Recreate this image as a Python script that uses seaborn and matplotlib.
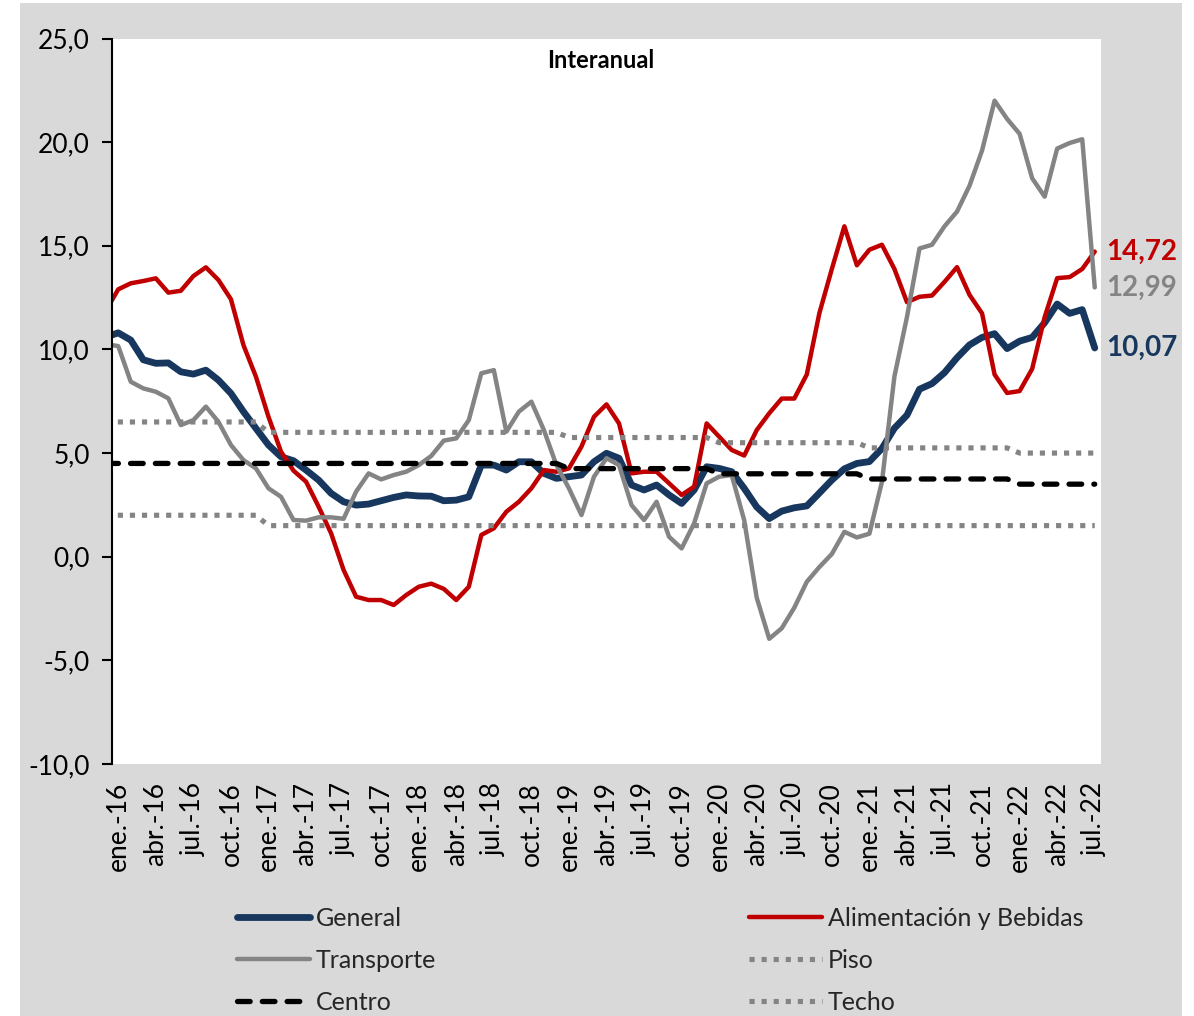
import numpy as np
import pandas as pd
import matplotlib
matplotlib.use("Agg")
import matplotlib.pyplot as plt
from matplotlib.patches import Rectangle
import seaborn as sns

# meses: dic.-15 .. jul.-22 (dic.-15 queda fuera del eje, solo da la pendiente inicial)
abrev = ["ene.", "feb.", "mar.", "abr.", "may.", "jun.", "jul.", "ago.", "sep.", "oct.", "nov.", "dic."]
meses = ["dic.-15"] + [f"{m}-{a}" for a in range(16, 23) for m in abrev]
meses = meses[:meses.index("jul.-22") + 1]

tick_labels = ["ene.-16", "abr.-16", "jul.-16", "oct.-16", "ene.-17", "abr.-17", "jul.-17", "oct.-17",
               "ene.-18", "abr.-18", "jul.-18", "oct.-18", "ene.-19", "abr.-19", "jul.-19", "oct.-19",
               "ene.-20", "abr.-20", "jul.-20", "oct.-20", "ene.-21", "abr.-21", "jul.-21", "oct.-21",
               "ene.-22", "abr.-22", "jul.-22"]

general = [10.6, 10.8, 10.45, 9.5, 9.33, 9.35, 8.92, 8.81, 9.0, 8.52, 7.88, 7.0, 6.19,
           5.39, 4.82, 4.63, 4.18, 3.7, 3.06, 2.65, 2.49, 2.54, 2.7, 2.86, 2.98,
           2.93, 2.92, 2.7, 2.73, 2.89, 4.42, 4.42, 4.18, 4.58, 4.58, 4.02, 3.78,
           3.86, 3.94, 4.58, 4.99, 4.75, 3.46, 3.22, 3.46, 2.98, 2.57, 3.22, 4.34,
           4.26, 4.1, 3.3, 2.4, 1.84, 2.2, 2.36, 2.45, 3.07, 3.7, 4.24, 4.5,
           4.59, 5.22, 6.2, 6.83, 8.08, 8.35, 8.88, 9.6, 10.22, 10.58, 10.76, 10.04,
           10.4, 10.58, 11.29, 12.19, 11.74, 11.92, 10.07]

alimentos = [11.86, 12.9, 13.19, 13.3, 13.43, 12.74, 12.83, 13.54, 13.96, 13.35, 12.42, 10.21, 8.68,
             6.75, 5.07, 4.15, 3.62, 2.42, 1.13, -0.64, -1.93, -2.09, -2.09, -2.33, -1.85,
             -1.45, -1.3, -1.55, -2.09, -1.45, 1.05, 1.37, 2.17, 2.65, 3.3, 4.18, 4.1,
             4.26, 5.31, 6.75, 7.35, 6.43, 4.02, 4.1, 4.1, 3.54, 2.98, 3.38, 6.43,
             5.79, 5.15, 4.88, 6.11, 6.92, 7.63, 7.63, 8.79, 11.74, 13.88, 15.94, 14.06,
             14.81, 15.05, 13.88, 12.28, 12.54, 12.6, 13.26, 13.97, 12.63, 11.74, 8.79, 7.9,
             7.99, 9.06, 11.56, 13.44, 13.49, 13.88, 14.72]

transporte = [10.26, 10.16, 8.44, 8.12, 7.96, 7.64, 6.35, 6.59, 7.24, 6.51, 5.39, 4.66, 4.26,
              3.3, 2.89, 1.77, 1.74, 1.9, 1.9, 1.83, 3.14, 4.02, 3.73, 3.94, 4.1,
              4.42, 4.86, 5.6, 5.71, 6.59, 8.85, 9.0, 6.03, 7.0, 7.48, 6.11, 4.42,
              3.3, 2.01, 3.86, 4.75, 4.42, 2.49, 1.77, 2.65, 0.96, 0.4, 1.61, 3.54,
              3.86, 3.94, 1.76, -1.98, -3.96, -3.45, -2.46, -1.21, -0.5, 0.13, 1.2, 0.93,
              1.11, 3.61, 8.7, 11.56, 14.87, 15.05, 15.94, 16.65, 17.9, 19.6, 22.0, 21.12,
              20.4, 18.26, 17.37, 19.69, 19.96, 20.14, 12.99]

piso = [2.0, 2.0, 2.0, 2.0, 2.0, 2.0, 2.0, 2.0, 2.0, 2.0, 2.0, 2.0, 2.0,
        1.5, 1.5, 1.5, 1.5, 1.5, 1.5, 1.5, 1.5, 1.5, 1.5, 1.5, 1.5,
        1.5, 1.5, 1.5, 1.5, 1.5, 1.5, 1.5, 1.5, 1.5, 1.5, 1.5, 1.5,
        1.5, 1.5, 1.5, 1.5, 1.5, 1.5, 1.5, 1.5, 1.5, 1.5, 1.5, 1.5,
        1.5, 1.5, 1.5, 1.5, 1.5, 1.5, 1.5, 1.5, 1.5, 1.5, 1.5, 1.5,
        1.5, 1.5, 1.5, 1.5, 1.5, 1.5, 1.5, 1.5, 1.5, 1.5, 1.5, 1.5,
        1.5, 1.5, 1.5, 1.5, 1.5, 1.5, 1.5]

centro = [4.5, 4.5, 4.5, 4.5, 4.5, 4.5, 4.5, 4.5, 4.5, 4.5, 4.5, 4.5, 4.5,
          4.5, 4.5, 4.5, 4.5, 4.5, 4.5, 4.5, 4.5, 4.5, 4.5, 4.5, 4.5,
          4.5, 4.5, 4.5, 4.5, 4.5, 4.5, 4.5, 4.5, 4.5, 4.5, 4.5, 4.5,
          4.25, 4.25, 4.25, 4.25, 4.25, 4.25, 4.25, 4.25, 4.25, 4.25, 4.25, 4.25,
          4.0, 4.0, 4.0, 4.0, 4.0, 4.0, 4.0, 4.0, 4.0, 4.0, 4.0, 4.0,
          3.75, 3.75, 3.75, 3.75, 3.75, 3.75, 3.75, 3.75, 3.75, 3.75, 3.75, 3.75,
          3.5, 3.5, 3.5, 3.5, 3.5, 3.5, 3.5]

techo = [6.5, 6.5, 6.5, 6.5, 6.5, 6.5, 6.5, 6.5, 6.5, 6.5, 6.5, 6.5, 6.5,
         6.0, 6.0, 6.0, 6.0, 6.0, 6.0, 6.0, 6.0, 6.0, 6.0, 6.0, 6.0,
         6.0, 6.0, 6.0, 6.0, 6.0, 6.0, 6.0, 6.0, 6.0, 6.0, 6.0, 6.0,
         5.75, 5.75, 5.75, 5.75, 5.75, 5.75, 5.75, 5.75, 5.75, 5.75, 5.75, 5.75,
         5.5, 5.5, 5.5, 5.5, 5.5, 5.5, 5.5, 5.5, 5.5, 5.5, 5.5, 5.5,
         5.25, 5.25, 5.25, 5.25, 5.25, 5.25, 5.25, 5.25, 5.25, 5.25, 5.25, 5.25,
         5.0, 5.0, 5.0, 5.0, 5.0, 5.0, 5.0]

AZUL = "#17375e"
ROJO = "#c00000"
GRIS = "#848484"

df = pd.DataFrame({"pos": np.arange(len(meses)), "mes": meses,
                   "General": general, "Alimentación y Bebidas": alimentos,
                   "Transporte": transporte, "Piso": piso, "Centro": centro, "Techo": techo})

estilos = {
    "General": dict(color=AZUL, lw=4.9, solid_capstyle="round"),
    "Alimentación y Bebidas": dict(color=ROJO, lw=3.2, solid_capstyle="round"),
    "Transporte": dict(color=GRIS, lw=3.2, solid_capstyle="round"),
    "Piso": dict(color=GRIS, lw=3.7, linestyle=(0, (1, 1.35))),
    "Centro": dict(color="black", lw=3.8, linestyle=(0, (2.4, 2.3)), dash_capstyle="round"),
    "Techo": dict(color=GRIS, lw=3.7, linestyle=(0, (1, 1.35))),
}

sns.set_theme(style="white")
plt.rcParams["font.family"] = ["Lato", "DejaVu Sans"]

W, H = 1194, 1016
fig = plt.figure(figsize=(W / 100, H / 100), dpi=100)
fig.patches.append(Rectangle((20 / W, 0), (1182 - 20) / W, (H - 3) / H, transform=fig.transFigure,
                             facecolor="#d9d9d9", edgecolor="none", zorder=-5))
ax = fig.add_axes([112 / W, 1 - 764 / H, (1101 - 112) / W, (764 - 38.5) / H])
ax.set_facecolor("white")

for nombre, st in estilos.items():
    sns.lineplot(data=df, x="pos", y=nombre, ax=ax, label=nombre, legend=False, sort=False, **st)

ax.set_xlim(0.5, len(meses) - 0.5)
ax.set_ylim(-10, 25)
yt = np.arange(-10, 26, 5)
ax.set_yticks(yt, [f"{v:.1f}".replace(".", ",") for v in yt])
ax.set_xticks([meses.index(t) for t in tick_labels], tick_labels, rotation=90)
ax.tick_params(axis="x", length=0, pad=13, labelsize=19, colors="black")
ax.tick_params(axis="y", left=True, length=7, width=1.5, direction="out", pad=9, labelsize=19, colors="black")
ax.set_xlabel("")
ax.set_ylabel("")
for s in ["top", "right", "bottom"]:
    ax.spines[s].set_visible(False)
ax.spines["left"].set_color("black")
ax.spines["left"].set_linewidth(1.5)

ax.text(0.494, 0.969, "Interanual", transform=ax.transAxes, ha="center", va="center",
        fontsize=17, fontweight="bold", color="black")

# valores finales a la derecha
ultimo = len(meses) - 1
for serie, col in [(alimentos, ROJO), (transporte, GRIS), (general, AZUL)]:
    ax.annotate(f"{serie[-1]:.2f}".replace(".", ","), xy=(ultimo, serie[-1]), xytext=(8, 0),
                textcoords="offset points", ha="left", va="center", fontsize=20,
                fontweight="bold", color=col, annotation_clip=False)

lineas = {l.get_label(): l for l in ax.get_lines()}
col1 = ["General", "Transporte", "Centro"]
col2 = ["Alimentación y Bebidas", "Piso", "Techo"]
for nombres, x0 in [(col1, 237), (col2, 749)]:
    fig.legend([lineas[n] for n in nombres], nombres, loc="upper left",
               bbox_to_anchor=(x0 / W, 1 - 907 / H), frameon=False, fontsize=18,
               handlelength=2.9, handletextpad=0.25, labelspacing=0.75,
               borderpad=0, borderaxespad=0)

fig.savefig("out.png", dpi=100)
